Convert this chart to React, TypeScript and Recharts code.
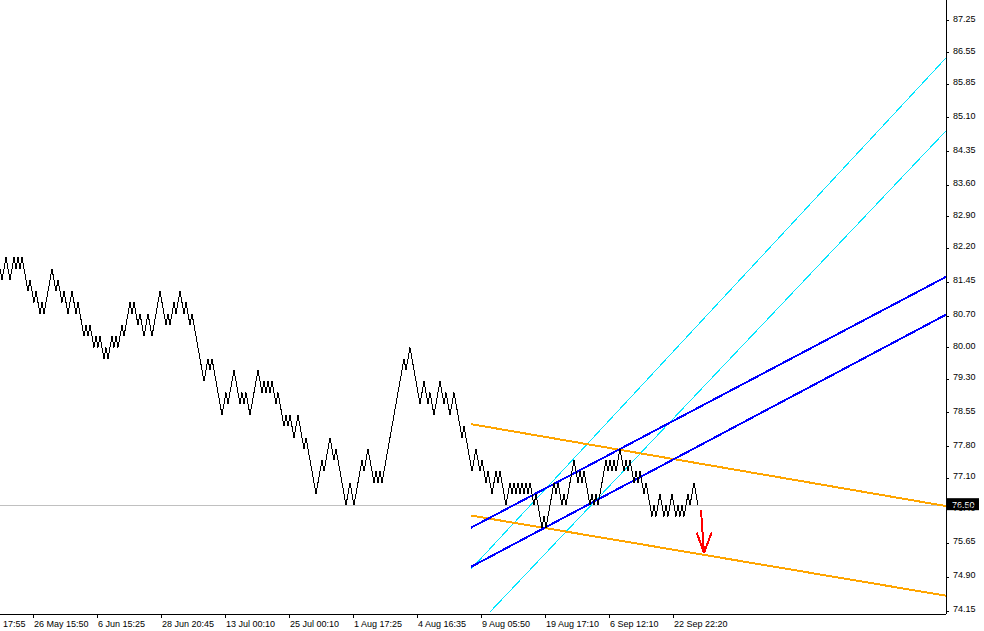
import { ComposedChart, Line, XAxis, YAxis, ReferenceLine } from 'recharts';

// renko closes at each turning point: [bar index, price]
const pivots: [number, number][] = [
  [0, 81.75], [1, 81.5], [3, 82], [5, 81.5], [7, 82], [8, 81.75], [9, 82], [10, 81.75], [11, 82],
  [14, 81.25], [15, 81.5], [17, 81], [18, 81.25], [20, 80.75], [21, 81], [22, 80.75], [26, 81.75],
  [28, 81.25], [29, 81.5], [31, 81], [32, 81.25], [34, 80.75], [36, 81.25], [38, 80.75], [39, 81],
  [42, 80.25], [43, 80.5], [44, 80.25], [45, 80.5], [47, 80], [48, 80.25], [49, 80], [50, 80.25],
  [52, 79.75], [53, 80], [54, 79.75], [56, 80.25], [57, 80], [58, 80.25], [59, 80], [61, 80.5],
  [62, 80.25], [65, 81], [66, 80.75], [67, 81], [69, 80.5], [70, 80.75], [72, 80.25], [74, 80.75],
  [76, 80.25], [80, 81.25], [83, 80.5], [84, 80.75], [85, 80.5], [87, 81], [88, 80.75], [90, 81.25],
  [92, 80.75], [93, 81], [95, 80.5], [96, 80.75], [102, 79.25], [104, 79.75], [105, 79.5], [106, 79.75],
  [111, 78.5], [113, 79], [114, 78.75], [117, 79.5], [120, 78.75], [121, 79], [122, 78.75], [123, 79],
  [125, 78.5], [129, 79.5], [131, 79], [132, 79.25], [133, 79], [134, 79.25], [135, 79], [136, 79.25],
  [138, 78.75], [139, 79], [142, 78.25], [143, 78.5], [144, 78.25], [145, 78.5], [147, 78], [149, 78.5],
  [152, 77.75], [153, 78], [158, 76.75], [161, 77.5], [162, 77.25], [165, 78], [167, 77.5], [168, 77.75],
  [173, 76.5], [175, 77], [177, 76.5], [180, 77.25], [181, 77.5], [182, 77.25], [184, 77.75], [187, 77],
  [188, 77.25], [189, 77], [190, 77.25], [191, 77], [202, 79.75], [203, 79.5], [205, 80], [210, 78.75],
  [212, 79.25], [214, 78.75], [215, 79], [217, 78.5], [220, 79.25], [222, 78.75], [223, 79], [225, 78.5],
  [227, 79], [231, 78], [232, 78.25], [236, 77.25], [238, 77.75], [240, 77.25], [241, 77.5], [243, 77],
  [244, 77.25], [246, 76.75], [248, 77.25], [249, 77], [250, 77.25], [253, 76.5], [255, 77], [256, 76.75],
  [257, 77], [258, 76.75], [259, 77], [260, 76.75], [261, 77], [262, 76.75], [263, 77], [264, 76.75],
  [265, 77], [267, 76.5], [268, 76.75], [271, 76], [272, 76.25], [273, 76], [276, 76.75], [277, 77],
  [278, 76.75], [279, 77], [281, 76.5], [282, 76.75], [283, 76.5], [287, 77.5], [289, 77], [290, 77.25],
  [291, 77], [292, 77.25], [295, 76.5], [296, 76.75], [297, 76.5], [298, 76.75], [299, 76.5], [303, 77.5],
  [304, 77.25], [305, 77.5], [306, 77.25], [307, 77.5], [308, 77.25], [310, 77.75], [312, 77.25], [313, 77.5],
  [314, 77.25], [315, 77.5], [317, 77], [318, 77.25], [319, 77], [320, 77.25], [322, 76.75], [323, 77],
  [326, 76.25], [327, 76.5], [328, 76.25], [330, 76.75], [332, 76.25], [333, 76.5], [334, 76.25], [336, 76.75],
  [338, 76.25], [339, 76.5], [340, 76.25], [341, 76.5], [342, 76.25], [344, 76.75], [345, 76.5], [347, 77],
  [349, 76.5],
];

const timeTicks = [0, 16.5, 48.5, 80.5, 112.5, 144.5, 176.5, 208.5, 240.5, 272.5, 304.5, 336.5];
const timeLabels = [
  '17:55', '26 May 15:50', '6 Jun 15:25', '28 Jun 20:45', '13 Jul 00:10', '25 Jul 00:10',
  '1 Aug 17:25', '4 Aug 16:35', '9 Aug 05:50', '19 Aug 17:10', '6 Sep 12:10', '22 Sep 22:20',
];

const priceTicks = [
  87.25, 86.55, 85.85, 85.1, 84.35, 83.6, 82.9, 82.2, 81.45, 80.7, 80.0,
  79.3, 78.55, 77.8, 77.1, 76.4, 75.65, 74.9, 74.15,
];

const lastPrice = 76.5;
const lastPriceLabel = '76.50';

type Seg = [[number, number], [number, number]];
const orangeChannel: Seg[] = [
  [[235.5, 78.3], [473, 76.48]],
  [[235.5, 76.27], [473, 74.49]],
];
const blueChannel: Seg[] = [
  [[235.5, 76.0], [473, 81.57]],
  [[235.5, 75.13], [473, 80.73]],
];
const cyanLines: Seg[] = [
  [[235.5, 75.08], [473, 86.43]],
  [[245, 74.13], [473, 84.81]],
];
const arrowStrokes: Seg[] = [
  [[350.5, 76.39], [352, 75.44]],
  [[348.35, 75.89], [352, 75.44]],
  [[355.85, 75.9], [352, 75.44]],
];

const FONT = "'Liberation Sans', Arial, sans-serif";
const data = pivots.map(([bar, price]) => ({ bar, price }));

function TimeTick(props: any) {
  const { x, y, index } = props;
  const label = timeLabels[index];
  if (index === 0) {
    return (
      <text x={x + 3} y={y + 9} fontSize={9} fontFamily={FONT} fill="#000">
        {label}
      </text>
    );
  }
  return (
    <g>
      <line x1={x} x2={x} y1={y - 4} y2={y} stroke="#000" shapeRendering="crispEdges" />
      <text x={x + 1} y={y + 9} fontSize={9} fontFamily={FONT} fill="#000" textAnchor="start">
        {label}
      </text>
    </g>
  );
}

function PriceTick(props: any) {
  const { x, y, payload } = props;
  return (
    <text x={x} y={y + 1} fontSize={9} fontFamily={FONT} fill="#000" textAnchor="start">
      {payload.value.toFixed(2)}
    </text>
  );
}

function PriceTag(props: any) {
  const { viewBox } = props;
  const x = viewBox.x + viewBox.width;
  const y = viewBox.y;
  return (
    <g>
      <rect x={x + 1} y={y - 7} width={32} height={12} fill="#000" />
      <text x={x + 6} y={y + 3} fontSize={9} fontFamily={FONT} fill="#fff">
        {lastPriceLabel}
      </text>
    </g>
  );
}

const seg = (s: Seg) => [{ x: s[0][0], y: s[0][1] }, { x: s[1][0], y: s[1][1] }];

export default function App() {
  return (
    <div style={{ width: 984, height: 631, background: '#fff' }}>
      <style>{'body{margin:0;background:#fff}'}</style>
      <ComposedChart
        width={984}
        height={631}
        data={data}
        margin={{ top: 0, right: 0, bottom: 0, left: 0 }}
      >
        <XAxis
          dataKey="bar"
          type="number"
          domain={[0, 473]}
          allowDataOverflow
          ticks={timeTicks}
          interval={0}
          height={17}
          tickSize={4}
          tickMargin={0}
          tickLine={false}
          axisLine={{ stroke: '#000', shapeRendering: 'crispEdges' }}
          tick={(p: any) => <TimeTick {...p} />}
        />
        <YAxis
          orientation="right"
          type="number"
          domain={[74.084, 87.716]}
          allowDataOverflow
          ticks={priceTicks}
          interval={0}
          width={38}
          tickSize={3}
          tickMargin={4}
          tickLine={{ stroke: '#000', shapeRendering: 'crispEdges' }}
          axisLine={{ stroke: '#000', shapeRendering: 'crispEdges' }}
          tick={(p: any) => <PriceTick {...p} />}
        />
        <ReferenceLine
          y={lastPrice}
          stroke="#c0c0c0"
          strokeWidth={1}
          shapeRendering="crispEdges"
          label={(p: any) => <PriceTag {...p} />}
        />
        {cyanLines.map((s, i) => (
          <ReferenceLine key={'c' + i} segment={seg(s)} stroke="#00e5ff" strokeWidth={1} ifOverflow="hidden" shapeRendering="crispEdges" />
        ))}
        {orangeChannel.map((s, i) => (
          <ReferenceLine key={'o' + i} segment={seg(s)} stroke="#ffa500" strokeWidth={2} ifOverflow="hidden" shapeRendering="crispEdges" />
        ))}
        {blueChannel.map((s, i) => (
          <ReferenceLine key={'b' + i} segment={seg(s)} stroke="#0000ff" strokeWidth={2} ifOverflow="hidden" shapeRendering="crispEdges" />
        ))}
        <Line
          dataKey="price"
          type="linear"
          stroke="#000"
          strokeWidth={1}
          dot={false}
          activeDot={false}
          isAnimationActive={false}
          shapeRendering="crispEdges"
        />
        {arrowStrokes.map((s, i) => (
          <ReferenceLine key={'a' + i} segment={seg(s)} stroke="#ff0000" strokeWidth={2} ifOverflow="hidden" shapeRendering="crispEdges" />
        ))}
      </ComposedChart>
    </div>
  );
}
